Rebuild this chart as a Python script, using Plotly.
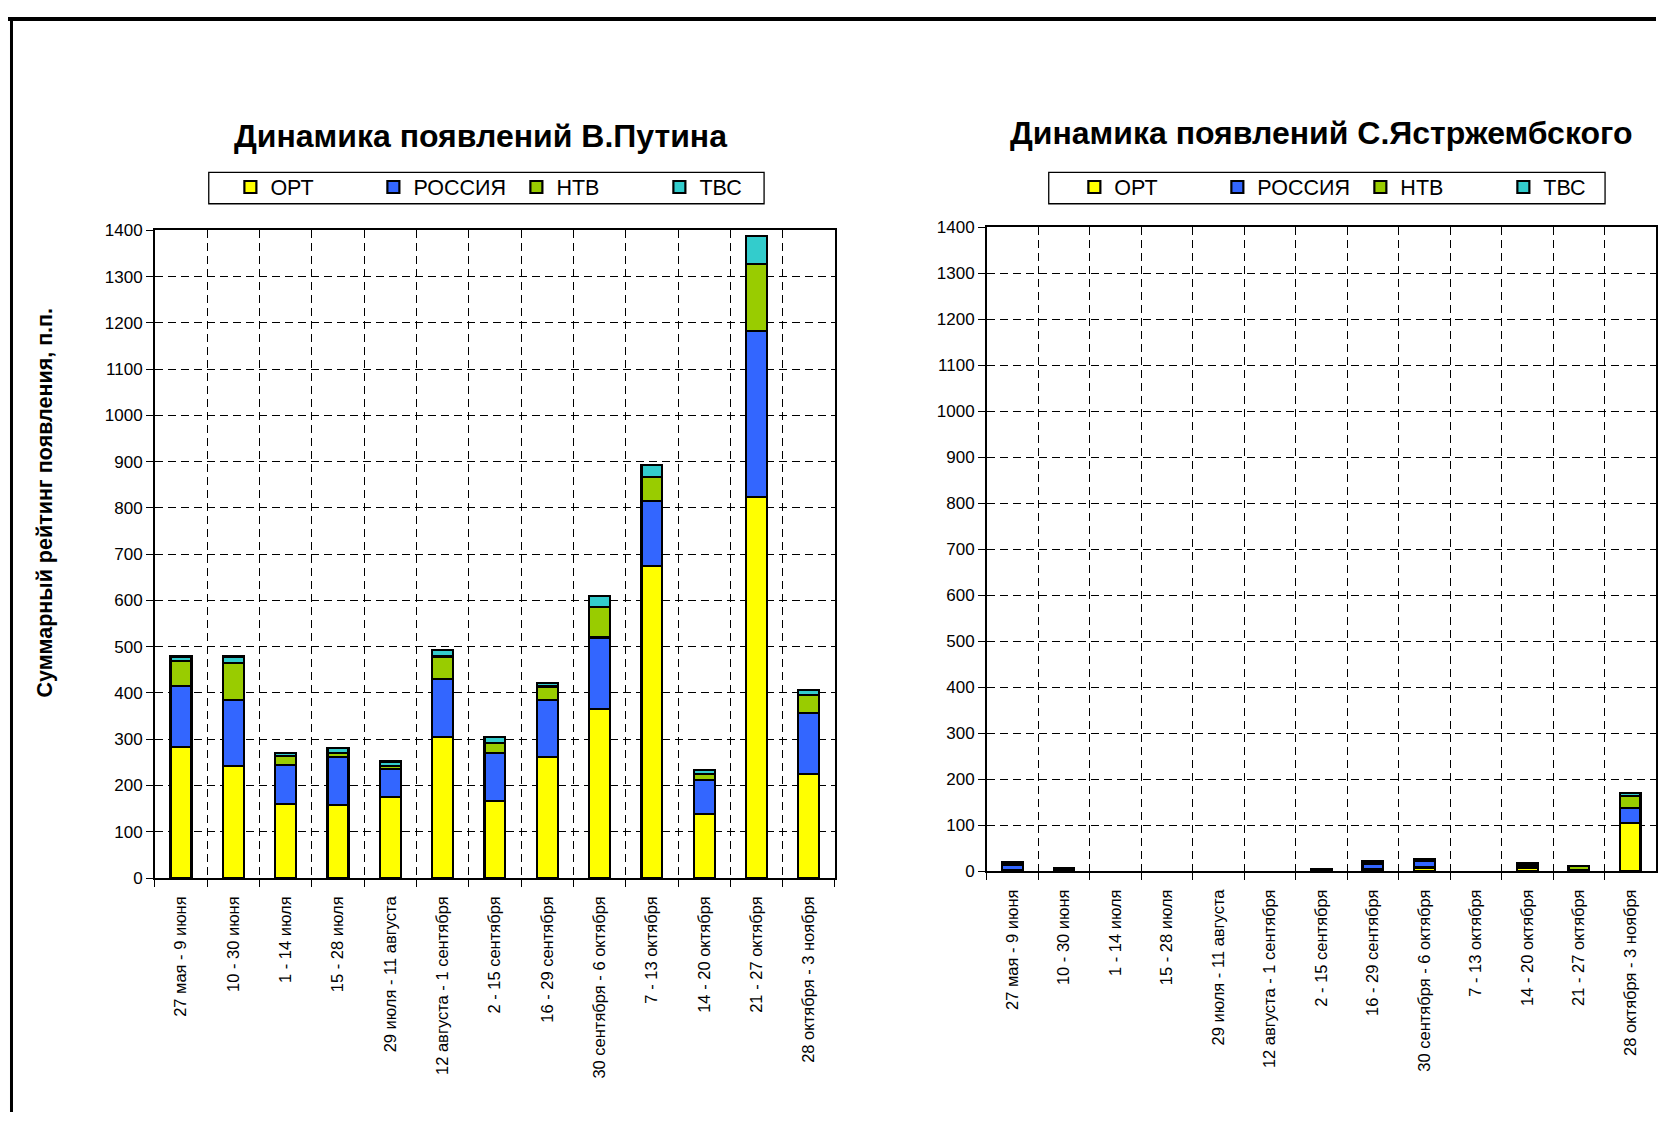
import plotly.graph_objects as go

# the page has an 8px body margin, so the figure is a bit smaller than the window
W, H = 1650, 1114
OFF = 8

weeks = ['27 мая - 9 июня', '10 - 30 июня', '1 - 14 июля', '15 - 28 июля',
         '29 июля - 11 августа', '12 августа - 1 сентября', '2 - 15 сентября',
         '16 - 29 сентября', '30 сентября - 6 октября', '7 - 13 октября',
         '14 - 20 октября', '21 - 27 октября', '28 октября - 3 ноября']
channels = ['ОРТ', 'РОССИЯ', 'НТВ', 'ТВС']
colors = ['#FFFF00', '#3366FF', '#99CC00', '#33CCCC']

# Путин
putin_ort = [284, 242, 160, 158, 176, 304, 167, 262, 365, 675, 139, 823, 225]
putin_rossiya = [131, 143, 84, 103, 59, 127, 103, 122, 155, 140, 73, 360, 132]
putin_ntv = [54, 79, 20, 10, 8, 48, 22, 30, 66, 51, 13, 145, 38]
putin_tvs = [10, 15, 7, 10, 9, 14, 12, 7, 23, 27, 8, 60, 11]

# Ястржембский
yastr_ort = [2, 2, 0, 0, 0, 0, 1, 4, 8, 0, 7, 2, 104]
yastr_rossiya = [12, 3, 0, 0, 0, 0, 2, 12, 14, 0, 3, 1, 33]
yastr_ntv = [2, 1, 0, 0, 0, 0, 1, 2, 2, 0, 3, 8, 26]
yastr_tvs = [4, 1, 0, 0, 0, 0, 1, 5, 3, 0, 5, 1, 7]

FONT = 'Liberation Sans, Arial, sans-serif'

fig = go.Figure()
left = [putin_ort, putin_rossiya, putin_ntv, putin_tvs]
right = [yastr_ort, yastr_rossiya, yastr_ntv, yastr_tvs]
for name, col, vals in zip(channels, colors, left):
    fig.add_trace(go.Bar(x=weeks, y=[v if v else None for v in vals], name=name,
                         marker_color=col, marker_line=dict(color='black', width=2.2),
                         xaxis='x', yaxis='y', legend='legend'))
for name, col, vals in zip(channels, colors, right):
    fig.add_trace(go.Bar(x=weeks, y=[v if v else None for v in vals], name=name,
                         marker_color=col, marker_line=dict(color='black', width=2.2),
                         xaxis='x2', yaxis='y2', legend='legend2'))


def px_x(v):
    return min(1, max(0, (v - OFF) / W))


def px_y(v):
    return min(1, max(0, 1 - (v - OFF) / H))


xcommon = dict(type='category', tickson='boundaries', showgrid=True,
               gridcolor='black', griddash='8px,5px', gridwidth=1,
               ticks='outside', ticklen=7, tickcolor='black',
               showline=True, linecolor='black', linewidth=1.5, mirror=True,
               tickangle=-90, ticklabelstandoff=10,
               tickfont=dict(family=FONT, size=16.5, color='black'))
ycommon = dict(range=[0, 1400], dtick=100, showgrid=True, gridcolor='black',
               griddash='8px,5px', gridwidth=1, ticks='outside', ticklen=7,
               tickcolor='black', showline=True, linecolor='black', linewidth=1.5,
               mirror=True, zeroline=False,
               tickfont=dict(family=FONT, size=17, color='black'))

# legend frame is drawn as a shape, the legend itself has no border
legcommon = dict(orientation='h', borderwidth=0, bgcolor='rgba(0,0,0,0)',
                 font=dict(family=FONT, size=21.5, color='black'),
                 entrywidth=98, itemwidth=30, xanchor='center', yanchor='middle',
                 traceorder='normal', itemclick=False)


def box(x0, y0, x1, y1, width=1.3):
    return dict(type='rect', xref='paper', yref='paper', x0=px_x(x0), x1=px_x(x1),
                y0=px_y(y1), y1=px_y(y0), line=dict(color='black', width=width),
                fillcolor='rgba(0,0,0,0)', layer='below')


fig.update_layout(
    width=W, height=H, margin=dict(l=0, r=0, t=0, b=0),
    paper_bgcolor='white', plot_bgcolor='white',
    barmode='stack', bargap=0.6,
    xaxis=dict(domain=[px_x(155), px_x(836)], anchor='y', **xcommon),
    yaxis=dict(domain=[px_y(884), px_y(225)], anchor='x', **ycommon),
    xaxis2=dict(domain=[px_x(988), px_x(1666)], anchor='y2', **xcommon),
    yaxis2=dict(domain=[px_y(877), px_y(222)], anchor='x2', **ycommon),
    legend=dict(x=px_x(517), y=px_y(181), **legcommon),
    legend2=dict(x=px_x(1362), y=px_y(181), **legcommon),
    annotations=[
        dict(text='<b>Динамика появлений В.Путина</b>', x=px_x(481), y=px_y(129),
             xref='paper', yref='paper', showarrow=False,
             xanchor='center', yanchor='middle',
             font=dict(family=FONT, size=32, color='black')),
        dict(text='<b>Динамика появлений С.Ястржембского</b>', x=px_x(1323), y=px_y(126),
             xref='paper', yref='paper', showarrow=False,
             xanchor='center', yanchor='middle',
             font=dict(family=FONT, size=32, color='black')),
        dict(text='<b>Суммарный рейтинг появления, п.п.</b>', x=px_x(45), y=px_y(502),
             xref='paper', yref='paper', showarrow=False, textangle=-90,
             xanchor='center', yanchor='middle',
             font=dict(family=FONT, size=21.5, color='black')),
    ],
    shapes=[
        box(209, 166, 765, 198),
        box(1050, 166, 1607, 198),
        dict(type='line', xref='paper', yref='paper', x0=0, x1=1,
             y0=1 - 2 / H, y1=1 - 2 / H, line=dict(color='black', width=4)),
        dict(type='line', xref='paper', yref='paper', x0=px_x(11.5), x1=px_x(11.5),
             y0=1, y1=0, line=dict(color='black', width=3)),
    ],
)

fig.write_html("out.html")
